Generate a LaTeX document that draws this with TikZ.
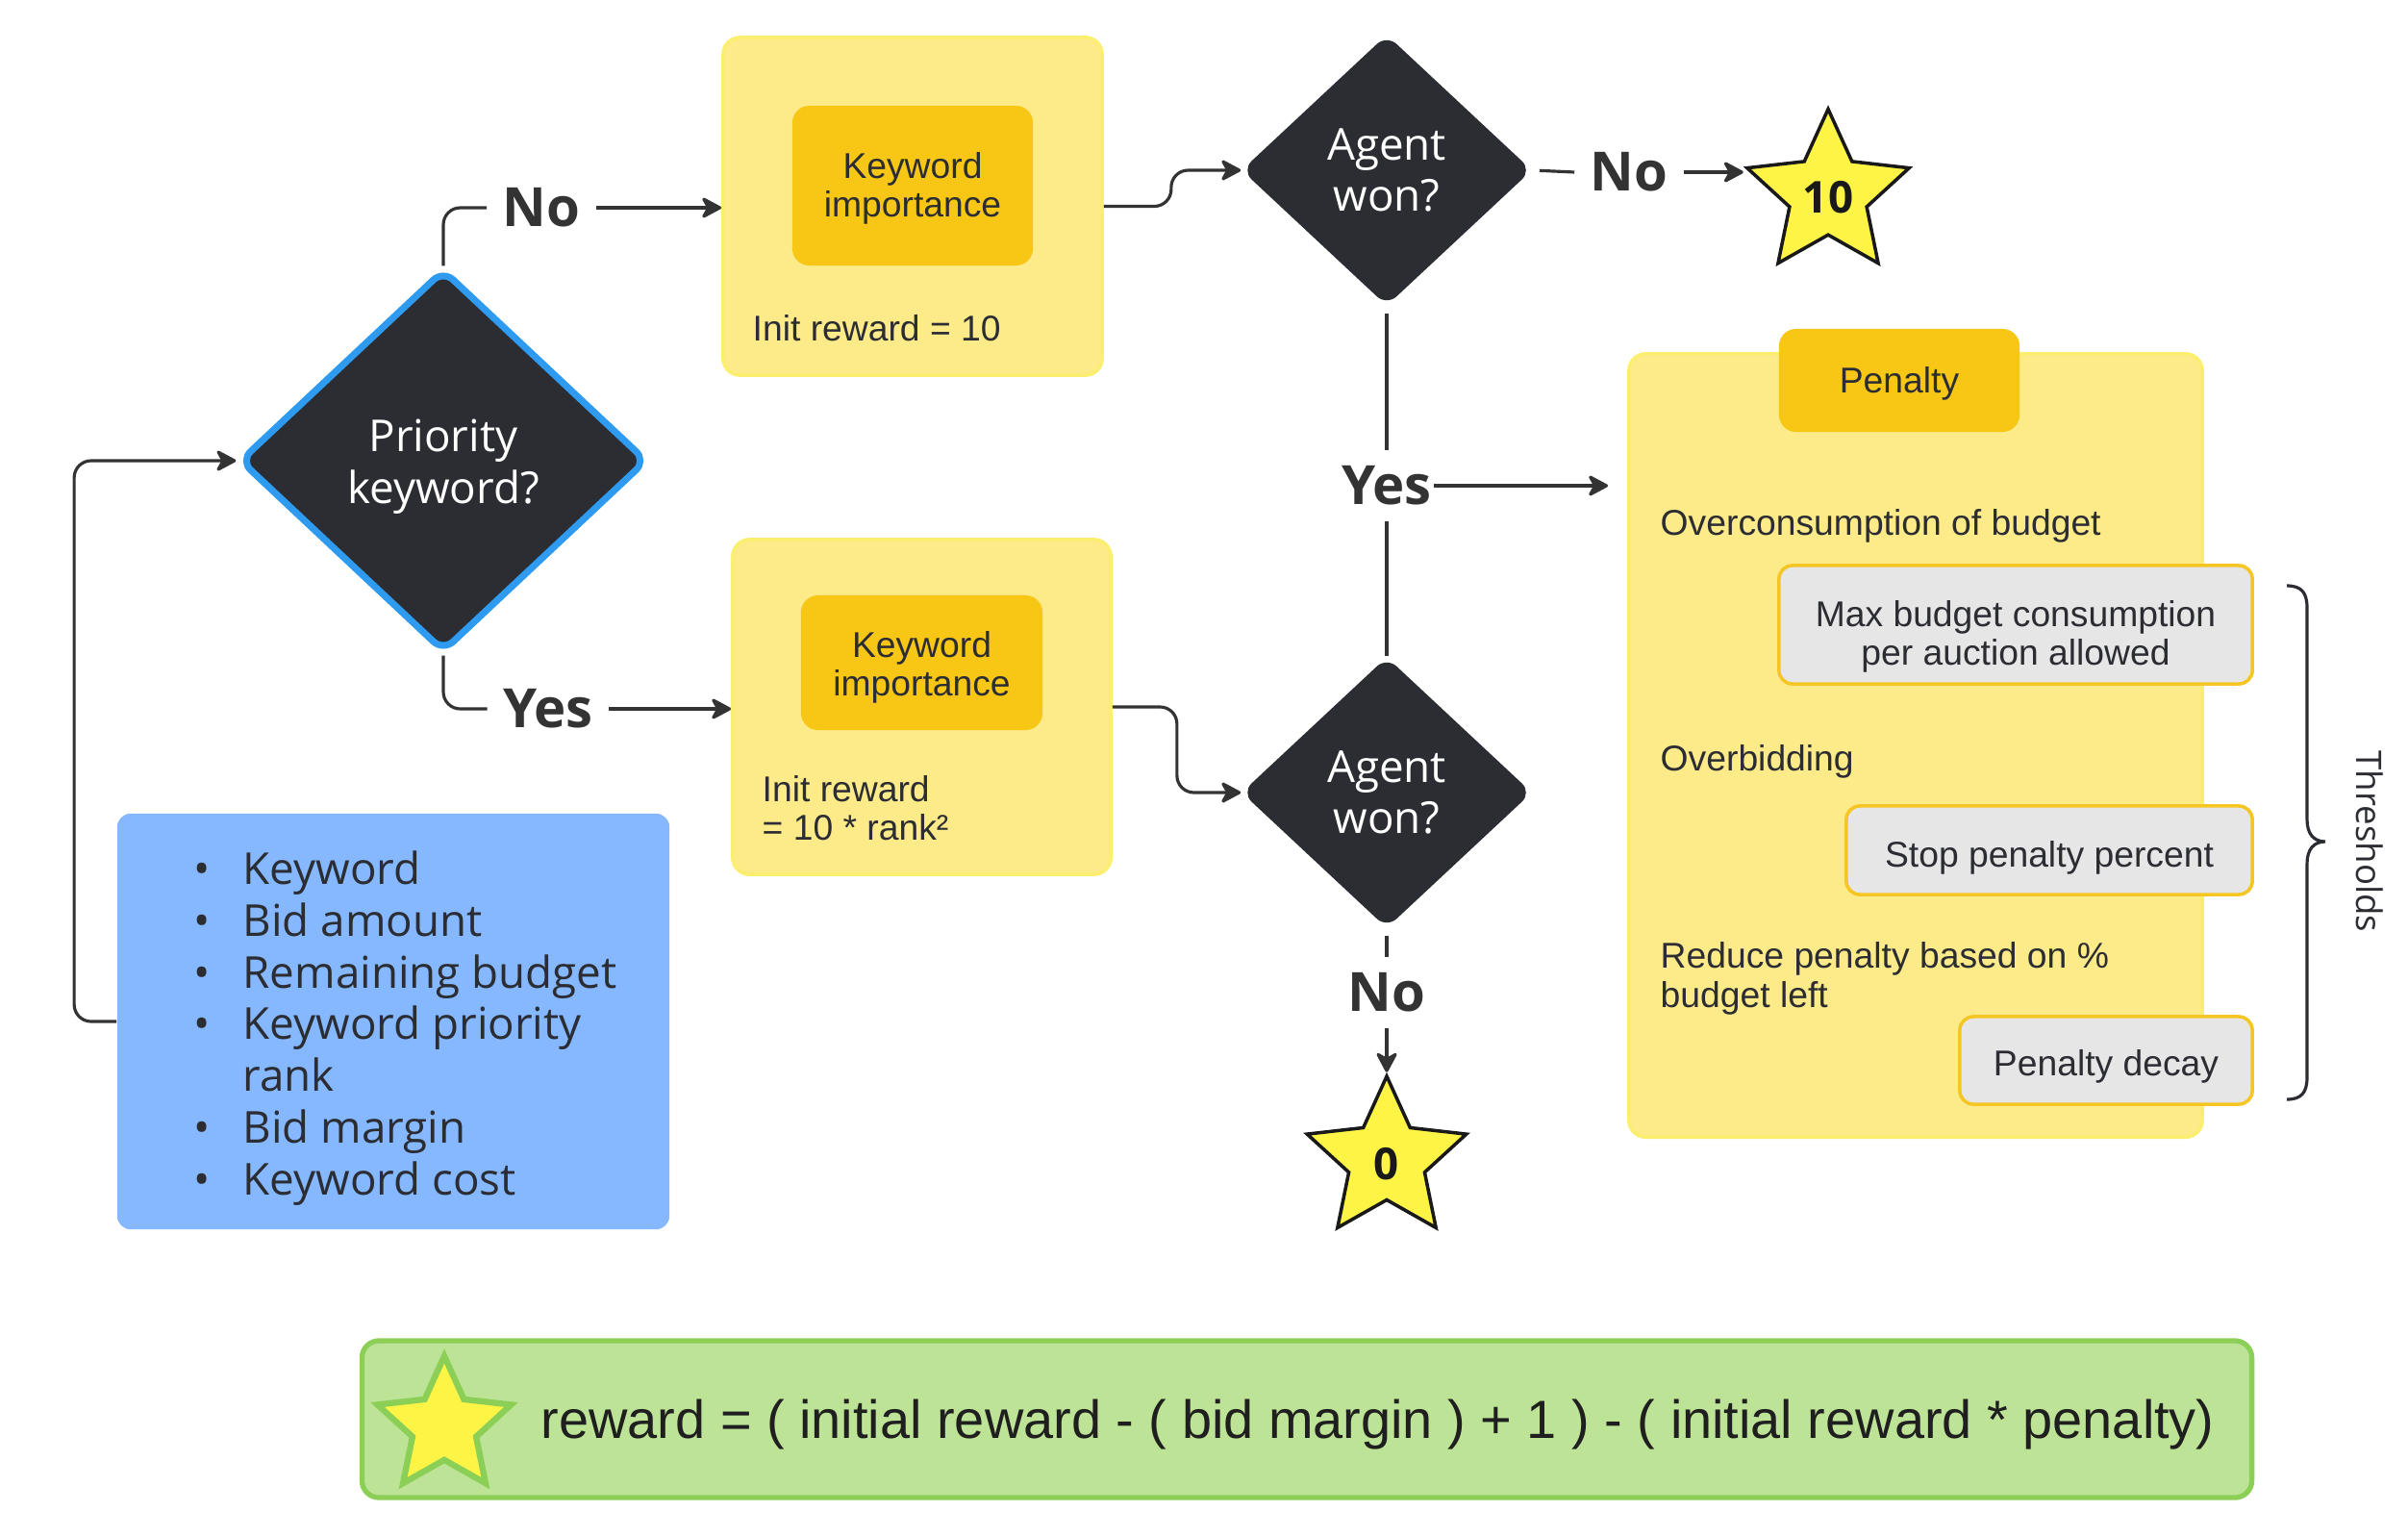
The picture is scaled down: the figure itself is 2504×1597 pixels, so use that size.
\documentclass[tikz,border=0pt]{standalone}
\usepackage{fontspec}
\setmainfont{Open Sans}
\newfontfamily\arialf{Liberation Sans}
\newfontfamily\osans{Open Sans}
\usetikzlibrary{shapes.geometric,arrows.meta}
\definecolor{ink}{HTML}{2B2D33}
\definecolor{lineC}{HTML}{333333}
\definecolor{dia}{HTML}{2B2D33}
\definecolor{prioB}{HTML}{2E9BF0}
\definecolor{ylw}{HTML}{FDEA88}
\definecolor{ylwB}{HTML}{FCEE6E}
\definecolor{org}{HTML}{F8C715}
\definecolor{gry}{HTML}{E6E6E6}
\definecolor{gryB}{HTML}{F5C623}
\definecolor{blu}{HTML}{85B8FF}
\definecolor{grn}{HTML}{BDE397}
\definecolor{grnB}{HTML}{8CCF57}
\definecolor{strY}{HTML}{FEF445}
\newcommand{\kwbul}{\llap{\textbullet\hspace{9.8pt}}}
\begin{document}
\begin{tikzpicture}[x=0.01cm,y=-0.01cm,
  conn/.style={draw=lineC, line width=0.9pt, rounded corners=5pt},
  arr/.style={-{Stealth[length=6.8pt,width=7.2pt,inset=2pt,round]}},
  ybox/.style={rectangle, rounded corners=5pt, fill=ylw, draw=ylwB, line width=1pt, inner sep=0pt},
  obox/.style={rectangle, rounded corners=5pt, fill=org, inner sep=0pt},
  gbox/.style={rectangle, rounded corners=4pt, fill=gry, draw=gryB, line width=1pt, inner sep=0pt},
  btxt/.style={inner sep=0pt, align=center, text=ink, font=\arialf\fontsize{10.6}{11.5}\selectfont},
  dec/.style={diamond, fill=dia, rounded corners=4pt, inner sep=0pt, align=center, text=white, font=\osans\fontsize{13}{15.2}\selectfont},
  dtxt/.style={inner sep=0pt, align=center, text=white, font=\osans\fontsize{13}{15.2}\selectfont},
  lbl/.style={inner sep=4.5pt, text=lineC, font=\osans\bfseries\fontsize{16}{18}\selectfont},
  ftxt/.style={anchor=base west, inner sep=0pt, text=ink, font=\arialf\fontsize{10.6}{11.4}\selectfont},
  starN/.style={star, star points=5, star point ratio=2.1, inner sep=0pt},
  stxt/.style={inner sep=0pt, text=black!90, font=\osans\bfseries\fontsize{13}{15}\selectfont}
]
\useasboundingbox (0,0) rectangle (2504,1597);
\fill[white] (0,0) rectangle (2504,1597);

% top branch box
\node[ybox, minimum width=3.94cm, minimum height=3.51cm] (box1) at (949,214.5) {};
\node[obox, minimum width=2.50cm, minimum height=1.66cm] (imp1) at (949,193) {};
\node[btxt] (imp1t) at (949,196) {Keyword\\importance};
\node[ftxt] (init1) at (782,354) {Init reward = 10};

% bottom branch box
\node[ybox, minimum width=3.93cm, minimum height=3.48cm] (box2) at (958.5,735) {};
\node[obox, minimum width=2.51cm, minimum height=1.40cm] (imp2) at (958.5,689) {};
\node[btxt] (imp2t) at (958.5,694) {Keyword\\importance};
\node[ftxt] (init2a) at (792,833) {Init reward};
\node[ftxt] (init2b) at (792,873) {= 10 * rank²};

% decisions
\node[dec, draw=prioB, line width=2pt, minimum width=4.24cm, minimum height=3.98cm] (prio) at (461,479) {};
\node[dtxt] (priot) at (461,485) {Priority\\keyword?};
\node[dec, minimum width=3.02cm, minimum height=2.82cm] (ag1) at (1442,177) {Agent\\won?};
\node[dec, minimum width=3.02cm, minimum height=2.82cm] (ag2) at (1442,824) {Agent\\won?};

% penalty
\node[ybox, minimum width=5.96cm, minimum height=8.14cm] (pen) at (1992,775) {};
\node[obox, minimum width=2.50cm, minimum height=1.07cm] (penh) at (1975,395.5) {};
\node[btxt] (penht) at (1975,399) {Penalty};
\node[ftxt] (oc) at (1726,556) {Overconsumption of budget};
\node[gbox, minimum width=4.92cm, minimum height=1.23cm] (g1) at (2096,649.5) {};
\node[btxt] (g1t) at (2096,662) {Max budget consumption\\per auction allowed};
\node[ftxt] (ob) at (1726,801) {Overbidding};
\node[gbox, minimum width=4.22cm, minimum height=0.92cm] (g2) at (2131,884) {};
\node[btxt] (g2t) at (2131,892) {Stop penalty percent};
\node[ftxt] (rp1) at (1726,1006) {Reduce penalty based on \%};
\node[ftxt] (rp2) at (1726,1047) {budget left};
\node[gbox, minimum width=3.04cm, minimum height=0.91cm] (g3) at (2190,1102.5) {};
\node[btxt] (g3t) at (2190,1109) {Penalty decay};

% brace
\draw[line width=0.9pt, draw=ink] (2378,609) .. controls (2393,609) and (2399,616) .. (2399,632) -- (2399,852) .. controls (2399,867) and (2406,875) .. (2418,875) .. controls (2406,875) and (2399,883) .. (2399,898) -- (2399,1120) .. controls (2399,1136) and (2393,1143) .. (2378,1143);
\node[rotate=-90, inner sep=0pt, text=ink, font=\osans\fontsize{10.4}{12}\selectfont] (thr) at (2464,875) {Thresholds};

% stars
\node[starN, minimum size=1.77cm, fill=strY, draw=black!90, line width=1pt] (s10) at (1901,202) {};
\node[stxt] (t10) at (1901,205) {10};
\node[starN, minimum size=1.74cm, fill=strY, draw=black!90, line width=1pt] (s0) at (1442,1206) {};
\node[stxt] (t0) at (1442,1210) {0};

% inputs
\node[rectangle, rounded corners=4pt, fill=blu, minimum width=5.74cm, minimum height=4.32cm] (blue) at (409,1062) {};
\node[anchor=north west, align=left, inner sep=0pt, text=ink, font=\osans\fontsize{13}{15.3}\selectfont] (list) at (252,884)
 {\kwbul Keyword\\\kwbul Bid amount\\\kwbul Remaining budget\\\kwbul Keyword priority\\rank\\\kwbul Bid margin\\\kwbul Keyword cost};

% formula
\node[rectangle, rounded corners=5pt, fill=grn, draw=grnB, line width=1.5pt, minimum width=19.64cm, minimum height=1.63cm] (grnbox) at (1359,1475.5) {};
\node[starN, minimum size=1.46cm, fill=strY, draw=grnB, line width=1.8pt] (sg) at (462,1483) {};
\node[anchor=base west, inner sep=0pt, text=black!88, font=\arialf\fontsize{15.9}{18}\selectfont] (formula) at (562,1495) {reward = ( initial reward - ( bid margin ) + 1 ) - ( initial reward * penalty)};

% labels
\node[lbl] (no1) at (563,216) {No};
\node[lbl] (yes1) at (570,737) {Yes};
\node[lbl] (no2) at (1694,179) {No};
\node[lbl, inner xsep=0.5pt] (yes3) at (1442,505) {Yes};
\node[lbl] (no3) at (1442,1032) {No};

% connectors
\draw[conn] (prio.north) |- (no1.west);
\draw[conn,arr] (no1.east) -- (no1.east -| box1.west);
\draw[conn] (prio.south) |- (yes1.west);
\draw[conn,arr] (yes1.east) -- (yes1.east -| box2.west);
\draw[conn,arr] (box1.east) -- ++(70,0) |- (ag1.west);
\draw[conn,arr] (box2.east) -- ++(67,0) |- (ag2.west);
\draw[conn, shorten <=2pt] (ag1.east) -- (no2.west);
\draw[conn,arr] (no2.east) -- (no2.east -| s10.outer point 2);
\draw[conn, shorten <=2pt] (ag1.south) -- (yes3.north);
\draw[conn] (ag2.north) -- (yes3.south);
\draw[conn,arr, shorten >=0.2cm] (yes3.east) -- (yes3.east -| pen.west);
\draw[conn, shorten <=2pt] (ag2.south) -- (no3.north);
\draw[conn,arr] (no3.south) -- (s0.outer point 1);
\draw[conn,arr] (blue.west) -- ++(-44,0) |- (prio.west);
\end{tikzpicture}
\end{document}
